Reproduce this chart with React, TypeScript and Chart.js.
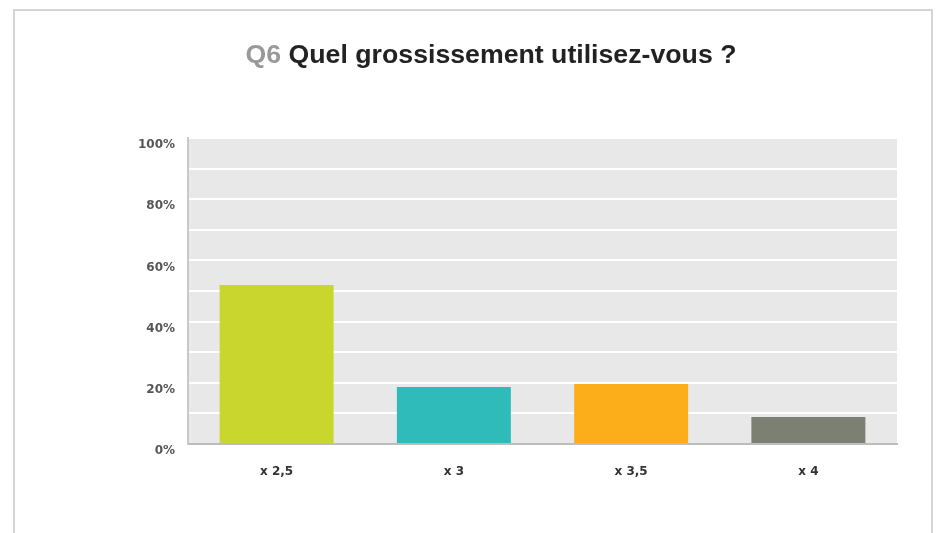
import React, { useEffect, useRef } from "react";
import { Chart, registerables } from "chart.js";

Chart.register(...registerables);

const TITLE_PREFIX = "Q6";
const TITLE_TEXT = "Quel grossissement utilisez-vous ?";
const categories = ["x 2,5", "x 3", "x 3,5", "x 4"];
const values = [52, 18.6, 19.6, 8.8];
const barColors = ["#C8D62E", "#30BBBB", "#FBAE1A", "#7B8072"];
const yLabelValues = [0, 20, 40, 60, 80, 100];

const plotBg = {
  id: "plotBg",
  beforeDraw(chart: any) {
    const { ctx, chartArea } = chart;
    ctx.save();
    ctx.fillStyle = "#E8E8E8";
    ctx.fillRect(chartArea.left, chartArea.top, chartArea.right - chartArea.left, chartArea.bottom - chartArea.top);
    ctx.restore();
  },
};

export default function App() {
  const ref = useRef<HTMLCanvasElement | null>(null);

  useEffect(() => {
    if (!ref.current) return;
    const chart = new Chart(ref.current, {
      type: "bar",
      data: {
        labels: categories,
        datasets: [
          {
            data: values,
            backgroundColor: barColors,
            borderWidth: 0,
            categoryPercentage: 1,
            barPercentage: 0.643,
          },
        ],
      },
      options: {
        animation: false,
        responsive: false,
        devicePixelRatio: 1,
        layout: { padding: { left: 0, top: 138, right: 51, bottom: 0 } },
        plugins: {
          legend: { display: false },
          tooltip: { enabled: false },
          title: { display: false },
        },
        scales: {
          x: {
            afterFit: (s: any) => {
              s.height = 89;
            },
            grid: { display: false },
            border: { display: true, color: "#BDBDBD", width: 2 },
            ticks: {
              color: "#333",
              padding: 13,
              font: { family: "DejaVu Sans", size: 12, weight: "bold" },
            },
          },
          y: {
            min: 0,
            max: 100,
            afterFit: (s: any) => {
              s.width = 188;
            },
            grid: {
              color: (c: any) => (c.tick && c.tick.value === 0 ? "rgba(0,0,0,0)" : "#FFFFFF"),
              lineWidth: 2,
              drawTicks: false,
            },
            border: { display: true, color: "#C8C8C8", width: 2 },
            ticks: {
              stepSize: 10,
              padding: 13,
              labelOffset: 7,
              color: "#555",
              font: { family: "DejaVu Sans", size: 12, weight: "bold" },
              callback: (v: any) => (yLabelValues.includes(Number(v)) ? `${v}%` : ""),
            },
          },
        },
      },
      plugins: [plotBg],
    });
    return () => chart.destroy();
  }, []);

  return (
    <div
      style={{
        position: "absolute",
        left: 0,
        top: 0,
        width: 948,
        height: 533,
        overflow: "hidden",
        background: "#fff",
      }}
    >
      <div
        style={{
          position: "absolute",
          left: 13,
          top: 9,
          width: 920,
          height: 600,
          border: "2px solid #D4D4D4",
          boxSizing: "border-box",
        }}
      />
      <canvas ref={ref} width={948} height={533} style={{ position: "absolute", left: 0, top: 0 }} />
      <div
        style={{
          position: "absolute",
          left: 0,
          top: 41,
          width: 982,
          textAlign: "center",
          fontFamily: "'Liberation Sans', Arial, sans-serif",
          fontWeight: "bold",
          fontSize: 26.7,
          lineHeight: "27px",
          whiteSpace: "nowrap",
          color: "#222",
        }}
      >
        <span style={{ color: "#999" }}>{TITLE_PREFIX}</span> {TITLE_TEXT}
      </div>
    </div>
  );
}
